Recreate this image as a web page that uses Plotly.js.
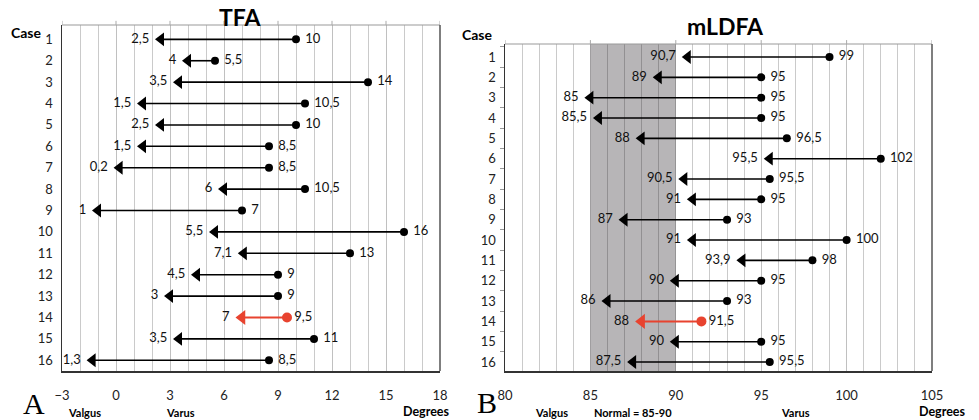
<!DOCTYPE html>
<html>
<head>
<meta charset="utf-8">
<script src="https://cdn.plot.ly/plotly-3.0.1.min.js"></script>
<style>html,body{margin:0;padding:0;background:#fff;}#chart{width:979px;height:420px;}</style>
</head>
<body>
<div id="chart"></div>
<script>
// ---- data ----
const cases = [1,2,3,4,5,6,7,8,9,10,11,12,13,14,15,16];
const tfaPre  = [10, 5.5, 14, 10.5, 10, 8.5, 8.5, 10.5, 7, 16, 13, 9, 9, 9.5, 11, 8.5];
const tfaPost = [2.5, 4, 3.5, 1.5, 2.5, 1.5, 0.2, 6, -1, 5.5, 7.1, 4.5, 3, 7, 3.5, -1.3];
const ldfaPre  = [99, 95, 95, 95, 96.5, 102, 95.5, 95, 93, 100, 98, 95, 93, 91.5, 95, 95.5];
const ldfaPost = [90.7, 89, 85, 85.5, 88, 95.5, 90.5, 91, 87, 91, 93.9, 90, 86, 88, 90, 87.5];
const highlightCase = 14;
const tfaTicks = [-3, 0, 3, 6, 9, 12, 15, 18];
const ldfaTicks = [80, 85, 90, 95, 100, 105];
const normalRange = [85, 90];

// ---- helpers ----
const W = 979, H = 420;
const px = v => v / W;
const py = v => 1 - v / H;
const NB = '\u00a0';
const fmt = v => String(Math.abs(v)).replace('.', ',');
const FONT = 'Lato, "Open Sans", sans-serif';
const RED = '#e8432f';
const yRange1 = [16.5, 0.33];
const yRange2 = [16.44, 0.36];

function panelTraces(pre, post, xa, ya) {
  const lx = [], ly = [], dx = [], dy = [], dt = [], tx = [], ty = [], tt = [];
  let hi = null;
  cases.forEach((c, i) => {
    if (c === highlightCase) { hi = i; return; }
    lx.push(pre[i], post[i], null); ly.push(c, c, null);
    dx.push(pre[i]); dy.push(c); dt.push(NB + fmt(pre[i]));
    tx.push(post[i]); ty.push(c); tt.push(fmt(post[i]) + NB);
  });
  const base = {xaxis: xa, yaxis: ya, hoverinfo: 'skip', showlegend: false, cliponaxis: false};
  const tf = {family: FONT, size: 13, color: '#111'};
  const tr = [
    Object.assign({type: 'scatter', mode: 'lines', x: lx, y: ly, line: {color: '#000', width: 1.6}}, base),
    Object.assign({type: 'scatter', mode: 'markers+text', x: dx, y: dy, text: dt, textposition: 'middle right',
      marker: {symbol: 'circle', size: 8, color: '#000'}, textfont: tf}, base),
    Object.assign({type: 'scatter', mode: 'markers+text', x: tx, y: ty, text: tt, textposition: 'middle left',
      marker: {symbol: 'triangle-left', size: 12, color: '#000'}, textfont: tf}, base)
  ];
  if (hi !== null) {
    const c = cases[hi];
    tr.push(Object.assign({type: 'scatter', mode: 'lines', x: [pre[hi], post[hi]], y: [c, c], line: {color: RED, width: 2}}, base));
    tr.push(Object.assign({type: 'scatter', mode: 'markers+text', x: [pre[hi]], y: [c], text: [fmt(pre[hi])], textposition: 'middle right',
      marker: {symbol: 'circle', size: 10, color: RED}, textfont: tf}, base));
    tr.push(Object.assign({type: 'scatter', mode: 'markers+text', x: [post[hi]], y: [c], text: [fmt(post[hi]) + NB], textposition: 'middle left',
      marker: {symbol: 'triangle-left', size: 13, color: RED}, textfont: tf}, base));
  }
  return tr;
}

// normal band (85-90) as a translucent horizontal bar spanning all cases
const band = {
  type: 'bar', orientation: 'h', xaxis: 'x2', yaxis: 'y2',
  y: [(yRange2[0] + yRange2[1]) / 2], x: [normalRange[1] - normalRange[0]], base: [normalRange[0]],
  width: [yRange2[0] - yRange2[1]],
  marker: {color: 'rgba(15,10,15,0.30)', line: {width: 0}},
  hoverinfo: 'skip', showlegend: false
};

const traces = [band]
  .concat(panelTraces(tfaPre, tfaPost, 'x', 'y'))
  .concat(panelTraces(ldfaPre, ldfaPost, 'x2', 'y2'));

const tickFont = {family: FONT, size: 13, color: '#222'};

function xAxis(domain, ticks, anchor) {
  return {
    domain: domain, range: [ticks[0], ticks[ticks.length - 1]], anchor: anchor,
    tickmode: 'linear', tick0: ticks[0], dtick: ticks[1] - ticks[0],
    ticks: 'outside', ticklen: 12, tickcolor: 'rgba(0,0,0,0)',
    showline: true, linecolor: '#333', linewidth: 1.5,
    showgrid: true, gridcolor: '#c0c0c0', gridwidth: 1, zeroline: false,
    minor: {dtick: 1, showgrid: true, gridcolor: '#cacaca', gridwidth: 1},
    tickfont: tickFont, fixedrange: true
  };
}
function yAxis(domain, range, anchor, minorTicks) {
  const a = {
    domain: domain, range: range, anchor: anchor,
    tickmode: 'linear', tick0: cases[0], dtick: 1,
    ticks: 'outside', ticklen: 5, tickcolor: 'rgba(0,0,0,0)',
    showline: true, linecolor: '#333', linewidth: 1.5,
    showgrid: false, zeroline: false, tickfont: tickFont, fixedrange: true
  };
  if (minorTicks) a.minor = {dtick: 1, tick0: 0.5, ticks: 'outside', ticklen: 4, tickcolor: '#999', showgrid: false};
  return a;
}

// frame: top border (grey) with small ticks at the major x values, right border
function frameShapes(xa, ya, ticks) {
  const s = [
    {type: 'line', xref: xa + ' domain', yref: ya + ' domain', x0: 0, x1: 1, y0: 1, y1: 1, line: {color: '#999', width: 1.2}, layer: 'above'},
    {type: 'line', xref: xa + ' domain', yref: ya + ' domain', x0: 1, x1: 1, y0: 0, y1: 1, line: {color: '#555', width: 1.5}, layer: 'above'}
  ];
  ticks.forEach(t => s.push({type: 'line', xref: xa, yref: ya + ' domain', x0: t, x1: t, y0: 1, y1: 1.012,
    line: {color: '#aaa', width: 1}, layer: 'above'}));
  return s;
}

function ann(text, x, y, size, family) {
  return {text: text, x: px(x), y: py(y), xref: 'paper', yref: 'paper', xanchor: 'center', yanchor: 'middle',
    showarrow: false, font: {family: family || FONT, size: size, color: '#000'}};
}

const layout = {
  width: W, height: H,
  margin: {l: 0, r: 0, t: 0, b: 0},
  paper_bgcolor: '#fff', plot_bgcolor: '#fff',
  showlegend: false, barmode: 'overlay',
  xaxis: xAxis([px(62), px(440)], tfaTicks, 'y'),
  yaxis: yAxis([py(371), py(25)], yRange1, 'x', false),
  xaxis2: xAxis([px(505), px(932)], ldfaTicks, 'y2'),
  yaxis2: yAxis([py(371), py(44)], yRange2, 'x2', true),
  shapes: frameShapes('x', 'y', tfaTicks).concat(frameShapes('x2', 'y2', ldfaTicks)),
  annotations: [
    ann('<b>TFA</b>', 240, 17, 23),
    ann('<b>mLDFA</b>', 725, 26, 23),
    ann('<b>Case</b>', 26, 33, 14),
    ann('<b>Case</b>', 477, 34, 14),
    ann('A', 34, 403, 30, '"Liberation Serif", serif'),
    ann('B', 487, 402, 30, '"Liberation Serif", serif'),
    ann('<b>Valgus</b>', 84, 412, 11),
    ann('<b>Varus</b>', 180, 412, 11),
    ann('<b>Degrees</b>', 426, 411, 12.5),
    ann('<b>Valgus</b>', 551, 412, 11),
    ann('<b>Normal = 85-90</b>', 633, 412, 11),
    ann('<b>Varus</b>', 795, 412, 11),
    ann('<b>Degrees</b>', 942, 411, 12.5)
  ]
};

Plotly.newPlot('chart', traces, layout, {staticPlot: true, displayModeBar: false});
</script>
</body>
</html>
